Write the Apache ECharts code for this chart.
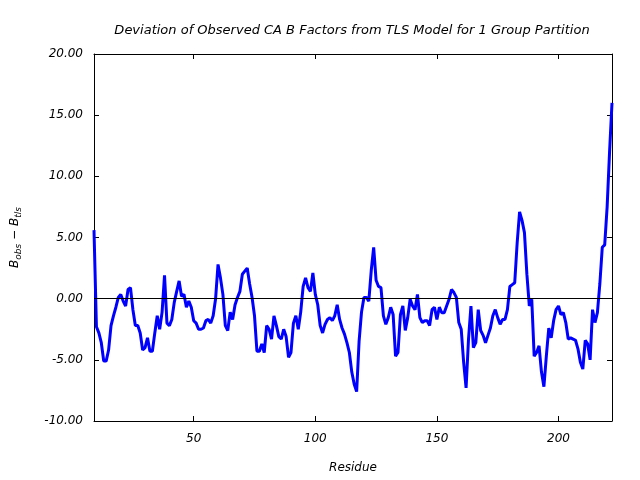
<!DOCTYPE html>
<html>
<head>
<meta charset="utf-8">
<script src="https://cdn.jsdelivr.net/npm/echarts@6/dist/echarts.min.js"></script>
<style>html,body{margin:0;padding:0;background:#fff}#c{width:640px;height:480px}</style>
</head>
<body>
<div id="c"></div>
<script>
const titleText = 'Deviation of Observed CA B Factors from TLS Model for 1 Group Partition';
const xName = 'Residue';
const firstResidue = 9;
const xTicks = [50, 100, 150, 200];
const yTicks = [-10, -5, 0, 5, 10, 15, 20];
const deviation = [
  5.6, -2.3, -2.8, -3.6, -5.1, -5.1, -4.2, -2.2, -1.4, -0.7,
  0.1, 0.35, -0.2, -0.6, 0.75, 0.9, -0.9, -2.2, -2.2, -2.8,
  -4.2, -4.0, -3.2, -4.3, -4.3, -2.8, -1.4, -2.5, -1.1, 1.9,
  -2.0, -2.2, -1.7, -0.3, 0.6, 1.45, 0.2, 0.35, -0.7, -0.2,
  -0.7, -1.8, -2.0, -2.5, -2.5, -2.4, -1.8, -1.7, -2.0, -1.4,
  0.0, 2.8, 1.7, 0.35, -2.2, -2.6, -1.1, -1.7, -0.5, 0.1,
  0.6, 2.0, 2.25, 2.5, 1.2, 0.1, -1.4, -4.3, -4.3, -3.7,
  -4.4, -2.2, -2.5, -3.3, -1.4, -2.2, -3.1, -3.3, -2.5, -3.1,
  -4.8, -4.4, -2.0, -1.4, -2.5, -1.1, 1.0, 1.7, 0.9, 0.6,
  2.1, 0.35, -0.5, -2.2, -2.8, -2.1, -1.7, -1.55, -1.8, -1.4,
  -0.5, -1.7, -2.4, -2.9, -3.6, -4.4, -6.0, -7.0, -7.6, -3.5,
  -1.1, 0.1, 0.1, -0.2, 2.3, 4.2, 1.5, 1.0, 0.9, -1.4,
  -2.1, -1.55, -0.7, -1.3, -4.7, -4.4, -1.3, -0.6, -2.6, -1.55,
  -0.05, -0.6, -0.9, 0.35, -1.55, -1.95, -1.8, -1.8, -2.2, -0.9,
  -0.7, -1.7, -0.7, -1.15, -1.15, -0.6, -0.05, 0.75, 0.5, 0.1,
  -1.95, -2.5, -5.2, -7.3, -3.3, -0.6, -4.0, -3.6, -0.9, -2.6,
  -3.0, -3.6, -3.0, -2.4, -1.4, -0.9, -1.55, -2.1, -1.7, -1.7,
  -0.9, 1.0, 1.15, 1.3, 4.55, 7.1, 6.4, 5.4, 2.0, -0.6,
  -0.05, -4.7, -4.4, -3.85, -6.0, -7.2, -4.7, -2.4, -3.2, -1.8,
  -0.9, -0.6, -1.3, -1.15, -1.95, -3.3, -3.2, -3.3, -3.4, -4.1,
  -5.2, -5.75, -3.4, -3.7, -5.0, -0.9, -1.95, -1.15, 1.2, 4.2,
  4.4, 7.5, 12.0, 16.0
];
const residues = deviation.map((_, i) => firstResidue + i);
const points = residues.map((r, i) => [r, deviation[i]]);

const font = 'DejaVu Sans';
const labelStyle = { fontFamily: font, fontStyle: 'italic', fontSize: 12, color: '#000' };
const xMin = 9, xMax = 222, yMin = -10, yMax = 20;

function xAxisCfg(pos, showLabel) {
  return {
    type: 'value', position: pos, min: xMin, max: xMax,
    axisLine: { show: true, onZero: false, lineStyle: { color: '#000', width: 1 } },
    axisTick: { show: true, inside: true, length: 5, customValues: xTicks, lineStyle: { color: '#000' } },
    axisLabel: Object.assign({ show: showLabel, customValues: xTicks, margin: 12 }, labelStyle),
    splitLine: { show: false },
    name: showLabel ? xName : '', nameLocation: 'middle', nameGap: 41,
    nameTextStyle: Object.assign({}, labelStyle)
  };
}
function yAxisCfg(pos, showLabel) {
  return {
    type: 'value', position: pos, min: yMin, max: yMax, interval: 5,
    axisLine: { show: true, onZero: false, lineStyle: { color: '#000', width: 1 } },
    axisTick: { show: true, inside: true, length: 5, lineStyle: { color: '#000' } },
    axisLabel: Object.assign({ show: showLabel, margin: 11, formatter: v => v.toFixed(2) }, labelStyle),
    splitLine: { show: false },
    name: showLabel ? '{b|B}{s|obs}{b| − B}{s|tls}' : '', nameLocation: 'middle', nameGap: 71, nameRotate: 90,
    nameTextStyle: {
      fontFamily: font, fontStyle: 'italic', color: '#000',
      rich: {
        b: { fontFamily: font, fontStyle: 'italic', fontSize: 12, lineHeight: 16, color: '#000' },
        s: { fontFamily: font, fontStyle: 'italic', fontSize: 9, lineHeight: 10, verticalAlign: 'bottom', color: '#000' }
      }
    }
  };
}

const chart = echarts.init(document.getElementById('c'), null, { renderer: 'canvas' });
chart.setOption({
  animation: false,
  backgroundColor: '#fff',
  title: {
    text: titleText, left: 347, top: 19, textAlign: 'center',
    textStyle: { fontFamily: font, fontStyle: 'italic', fontWeight: 'normal', fontSize: 13, color: '#000' }
  },
  grid: { left: 94, right: 28, top: 54, bottom: 59, containLabel: false },
  xAxis: [xAxisCfg('bottom', true), xAxisCfg('top', false)],
  yAxis: [yAxisCfg('left', true), yAxisCfg('right', false)],
  series: [{
    type: 'line', data: points, showSymbol: false, symbol: 'none',
    lineStyle: { color: '#0000ff', width: 3 }, z: 3,
    markLine: {
      silent: true, symbol: 'none', animation: false,
      label: { show: false },
      lineStyle: { color: '#000', width: 1, type: 'solid' },
      data: [{ yAxis: 0 }]
    }
  }]
});
</script>
</body>
</html>
